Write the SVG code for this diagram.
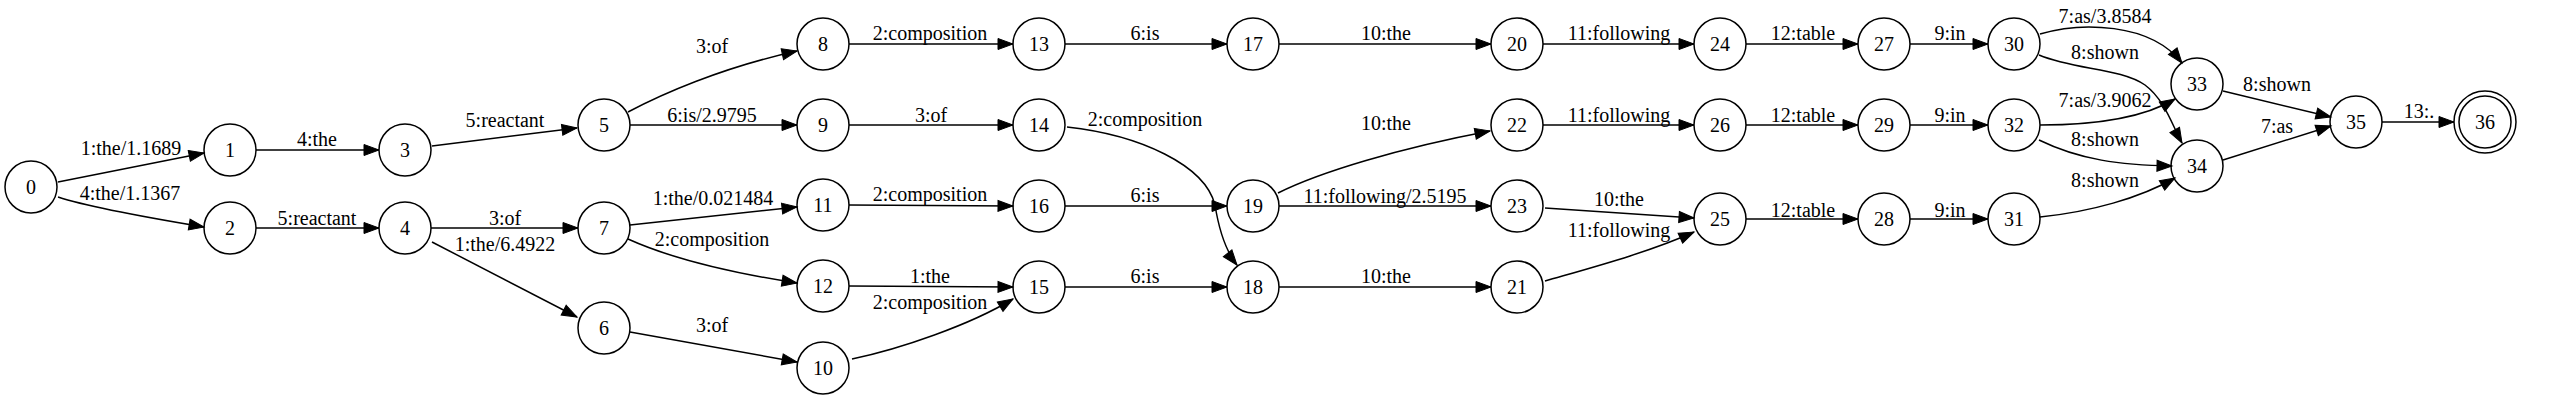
<svg xmlns="http://www.w3.org/2000/svg" width="2550" height="401" viewBox="0 0 2550 401" font-family="'Liberation Serif', 'Times New Roman', 'DejaVu Serif', serif">
<style>
text{font-family:"Liberation Serif","Times New Roman","DejaVu Serif",serif;font-size:20px;fill:#000;text-anchor:middle}
circle{fill:none;stroke:#000;stroke-width:1.5}
.e path{fill:none;stroke:#000;stroke-width:1.5;marker-end:url(#ah)}
</style>
<defs>
<marker id="ah" markerUnits="userSpaceOnUse" markerWidth="17" markerHeight="13" refX="15" refY="5.5" orient="auto" viewBox="0 0 17 13" overflow="visible">
<path d="M0,0 L15,5.5 L0,11 z" fill="#000" stroke="#000" stroke-width="1"/>
</marker>
</defs>
<rect width="2550" height="401" fill="#fff"/>
<g class="e" id="edges">
<path d="M58,182 L204,153"/>
<path d="M58,197 C85,206 150,218 204,227"/>
<path d="M256,150 L379,150"/>
<path d="M256,228 L379,228"/>
<path d="M432,146 L577,128"/>
<path d="M431,228 L578,228"/>
<path d="M432,242 L577,317"/>
<path d="M628,112 C660,95 720,68 797,51"/>
<path d="M630,125 L797,125"/>
<path d="M630,225 L797,207"/>
<path d="M628,239 C650,249 700,268 797,283"/>
<path d="M630,332 L797,362"/>
<path d="M849,44 L1013,44"/>
<path d="M849,125 L1013,125"/>
<path d="M849,205 L1013,206"/>
<path d="M849,286 L1013,287"/>
<path d="M852,359 C900,349 970,325 1013,299"/>
<path d="M1065,44 L1227,44"/>
<path d="M1067,127 C1140,135 1205,165 1215,205 C1219,230 1225,250 1237,265"/>
<path d="M1065,287 L1227,287"/>
<path d="M1065,206 L1227,206"/>
<path d="M1279,44 L1491,44"/>
<path d="M1278,193 C1320,172 1400,148 1490,131"/>
<path d="M1279,206 L1491,206"/>
<path d="M1279,287 L1491,287"/>
<path d="M1543,44 L1694,44"/>
<path d="M1543,125 L1694,125"/>
<path d="M1545,208 L1694,218"/>
<path d="M1545,281 C1590,268 1650,252 1694,232"/>
<path d="M1746,44 L1858,44"/>
<path d="M1746,125 L1858,125"/>
<path d="M1746,219 L1858,219"/>
<path d="M1910,44 L1988,44"/>
<path d="M1910,125 L1988,125"/>
<path d="M1910,219 L1988,219"/>
<path d="M2040,34 C2080,22 2150,22 2182,63"/>
<path d="M2039,55 C2075,70 2120,68 2145,85 C2165,100 2172,125 2182,143"/>
<path d="M2040,125 C2090,125 2140,120 2175,99"/>
<path d="M2039,140 C2080,160 2120,165 2172,166"/>
<path d="M2040,217 C2090,212 2140,198 2175,178"/>
<path d="M2223,91 L2331,117"/>
<path d="M2223,160 L2331,126"/>
<path d="M2382,122 L2454,122"/>
</g>
<g id="edge-labels">
<text x="131" y="155">1:the/1.1689</text>
<text x="130" y="200">4:the/1.1367</text>
<text x="317" y="146">4:the</text>
<text x="317" y="225">5:reactant</text>
<text x="505" y="127">5:reactant</text>
<text x="505" y="225">3:of</text>
<text x="505" y="251">1:the/6.4922</text>
<text x="712" y="53">3:of</text>
<text x="712" y="122">6:is/2.9795</text>
<text x="713" y="205">1:the/0.021484</text>
<text x="712" y="246">2:composition</text>
<text x="712" y="332">3:of</text>
<text x="930" y="40">2:composition</text>
<text x="931" y="122">3:of</text>
<text x="930" y="201">2:composition</text>
<text x="930" y="283">1:the</text>
<text x="930" y="309">2:composition</text>
<text x="1145" y="40">6:is</text>
<text x="1145" y="126">2:composition</text>
<text x="1145" y="202">6:is</text>
<text x="1145" y="283">6:is</text>
<text x="1386" y="40">10:the</text>
<text x="1386" y="130">10:the</text>
<text x="1385" y="203">11:following/2.5195</text>
<text x="1386" y="283">10:the</text>
<text x="1619" y="40">11:following</text>
<text x="1619" y="122">11:following</text>
<text x="1619" y="206">10:the</text>
<text x="1619" y="237">11:following</text>
<text x="1803" y="40">12:table</text>
<text x="1803" y="122">12:table</text>
<text x="1803" y="217">12:table</text>
<text x="1950" y="40">9:in</text>
<text x="1950" y="122">9:in</text>
<text x="1950" y="217">9:in</text>
<text x="2105" y="23">7:as/3.8584</text>
<text x="2105" y="59">8:shown</text>
<text x="2105" y="107">7:as/3.9062</text>
<text x="2105" y="146">8:shown</text>
<text x="2105" y="187">8:shown</text>
<text x="2277" y="91">8:shown</text>
<text x="2277" y="133">7:as</text>
<text x="2419" y="118">13:.</text>
</g>
<g id="n0"><circle cx="31" cy="187" r="26" stroke-width="3"/><text x="31" y="194">0</text></g>
<g id="n1"><circle cx="230" cy="150" r="26"/><text x="230" y="157">1</text></g>
<g id="n2"><circle cx="230" cy="228" r="26"/><text x="230" y="235">2</text></g>
<g id="n3"><circle cx="405" cy="150" r="26"/><text x="405" y="157">3</text></g>
<g id="n4"><circle cx="405" cy="228" r="26"/><text x="405" y="235">4</text></g>
<g id="n5"><circle cx="604" cy="125" r="26"/><text x="604" y="132">5</text></g>
<g id="n6"><circle cx="604" cy="328" r="26"/><text x="604" y="335">6</text></g>
<g id="n7"><circle cx="604" cy="228" r="26"/><text x="604" y="235">7</text></g>
<g id="n8"><circle cx="823" cy="44" r="26"/><text x="823" y="51">8</text></g>
<g id="n9"><circle cx="823" cy="125" r="26"/><text x="823" y="132">9</text></g>
<g id="n10"><circle cx="823" cy="368" r="26"/><text x="823" y="375">10</text></g>
<g id="n11"><circle cx="823" cy="205" r="26"/><text x="823" y="212">11</text></g>
<g id="n12"><circle cx="823" cy="286" r="26"/><text x="823" y="293">12</text></g>
<g id="n13"><circle cx="1039" cy="44" r="26"/><text x="1039" y="51">13</text></g>
<g id="n14"><circle cx="1039" cy="125" r="26"/><text x="1039" y="132">14</text></g>
<g id="n15"><circle cx="1039" cy="287" r="26"/><text x="1039" y="294">15</text></g>
<g id="n16"><circle cx="1039" cy="206" r="26"/><text x="1039" y="213">16</text></g>
<g id="n17"><circle cx="1253" cy="44" r="26"/><text x="1253" y="51">17</text></g>
<g id="n18"><circle cx="1253" cy="287" r="26"/><text x="1253" y="294">18</text></g>
<g id="n19"><circle cx="1253" cy="206" r="26"/><text x="1253" y="213">19</text></g>
<g id="n20"><circle cx="1517" cy="44" r="26"/><text x="1517" y="51">20</text></g>
<g id="n21"><circle cx="1517" cy="287" r="26"/><text x="1517" y="294">21</text></g>
<g id="n22"><circle cx="1517" cy="125" r="26"/><text x="1517" y="132">22</text></g>
<g id="n23"><circle cx="1517" cy="206" r="26"/><text x="1517" y="213">23</text></g>
<g id="n24"><circle cx="1720" cy="44" r="26"/><text x="1720" y="51">24</text></g>
<g id="n25"><circle cx="1720" cy="219" r="26"/><text x="1720" y="226">25</text></g>
<g id="n26"><circle cx="1720" cy="125" r="26"/><text x="1720" y="132">26</text></g>
<g id="n27"><circle cx="1884" cy="44" r="26"/><text x="1884" y="51">27</text></g>
<g id="n28"><circle cx="1884" cy="219" r="26"/><text x="1884" y="226">28</text></g>
<g id="n29"><circle cx="1884" cy="125" r="26"/><text x="1884" y="132">29</text></g>
<g id="n30"><circle cx="2014" cy="44" r="26"/><text x="2014" y="51">30</text></g>
<g id="n31"><circle cx="2014" cy="219" r="26"/><text x="2014" y="226">31</text></g>
<g id="n32"><circle cx="2014" cy="125" r="26"/><text x="2014" y="132">32</text></g>
<g id="n33"><circle cx="2197" cy="84" r="26"/><text x="2197" y="91">33</text></g>
<g id="n34"><circle cx="2197" cy="166" r="26"/><text x="2197" y="173">34</text></g>
<g id="n35"><circle cx="2356" cy="122" r="26"/><text x="2356" y="129">35</text></g>
<g id="n36"><circle cx="2485" cy="122" r="26"/><circle cx="2485" cy="122" r="31"/><text x="2485" y="129">36</text></g>
</svg>
